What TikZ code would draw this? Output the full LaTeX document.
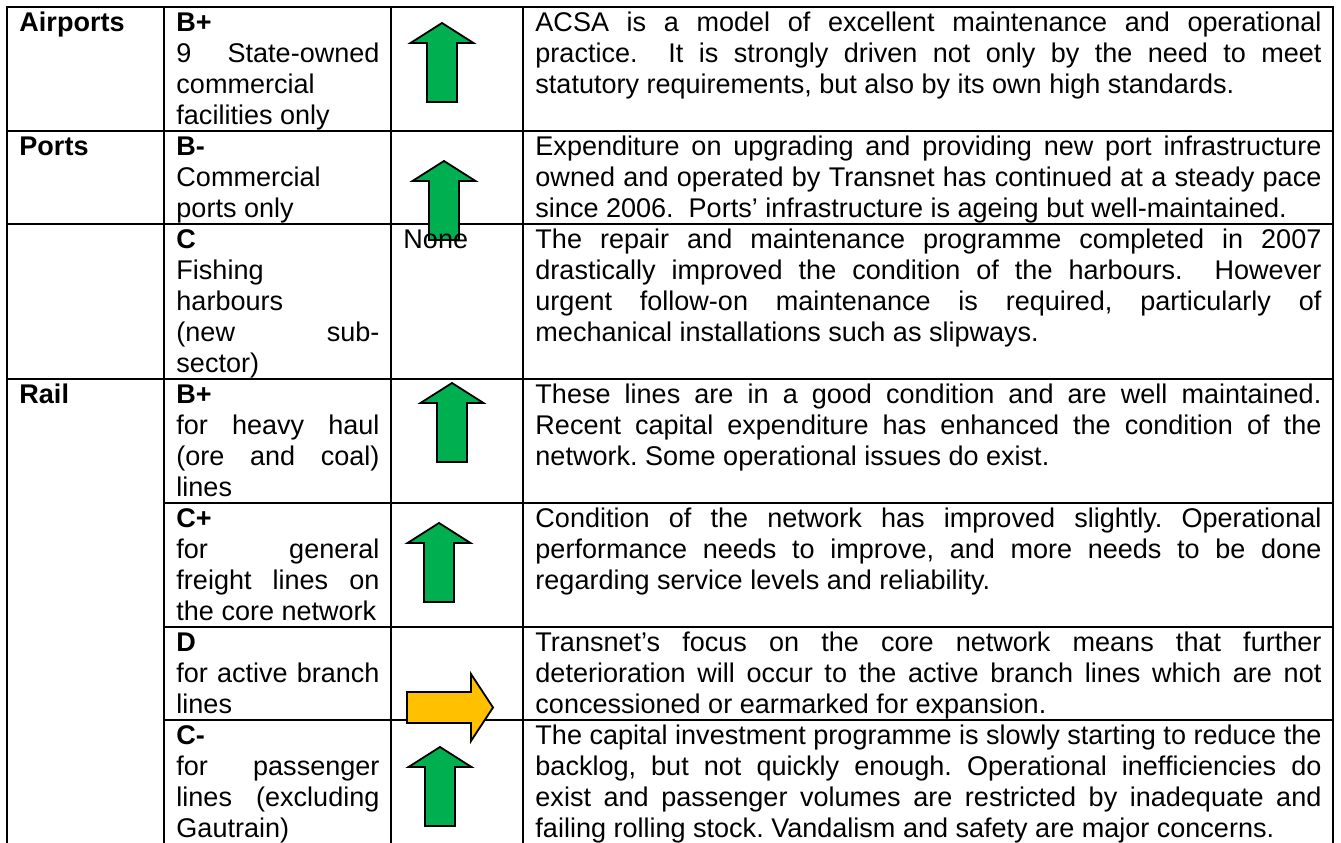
\documentclass[tikz,border=0pt]{standalone}
\usepackage{fontspec}
\setmainfont{Liberation Sans}
\frenchspacing
\hyphenpenalty=10000
\exhyphenpenalty=10000

\definecolor{upgreen}{HTML}{00B050}
\definecolor{sideorange}{HTML}{FFC000}

\begin{document}
\begin{tikzpicture}[x=0.4439pt,y=-0.4439pt]

\tikzstyle{grid} = [draw, line width=0.8pt]
\tikzstyle{cell} = [anchor=base west, inner sep=0pt,
    font=\fontsize{12pt}{13.76pt}\selectfont]
\tikzstyle{sector} = [cell, font=\fontsize{12pt}{13.76pt}\selectfont\bfseries]
\tikzstyle{grade} = [cell, align=justify, text width=90.1pt]
\tikzstyle{remark} = [cell, align=justify, text width=348.9pt]
\tikzstyle{uparrow} = [draw, line width=0.8pt, fill=upgreen, line join=miter]
\tikzstyle{sidearrow} = [draw, line width=0.8pt, fill=sideorange, line join=miter]

\useasboundingbox (0,0) rectangle (1341,843);

% rules of the table
\draw [grid] (7,850) -- (7,7) -- (1333,7) -- (1333,850);
\foreach \x in {164,391,523}
    \draw [grid] (\x,7) -- (\x,850);
\foreach \y in {131,224,379}
    \draw [grid] (7,\y) -- (1333,\y);
\foreach \y in {503,627,720}
    \draw [grid] (164,\y) -- (1333,\y);

% trend arrows
\foreach \tx/\ty in {442/23, 444/161, 452/383, 439/523, 440/747}
    \draw [uparrow] (\tx,\ty) -- ++(31.5,20) -- ++(-16.5,0) -- ++(0,59)
        -- ++(-30,0) -- ++(0,-59) -- ++(-16.5,0) -- cycle;
\draw [sidearrow] (407,692) -- (471,692) -- (471,674) -- (493,707.5)
    -- (471,741) -- (471,723) -- (407,723) -- cycle;

% sectors
\node [sector] (airports) at (19,32) {Airports};
\node [sector] (ports) at (19,156) {Ports};
\node [sector] (rail) at (19,404) {Rail};

% grades
\node [grade] (airgrade) at (176,32) {\textbf{B+}\newline 9 State-owned\linebreak commercial\newline facilities only};
\node [grade] (portgrade) at (176,156) {\textbf{B-}\newline Commercial\newline ports only};
\node [grade] (fishgrade) at (176,249) {\textbf{C}\newline Fishing\newline harbours\newline (new sub-\linebreak sector)};
\node [grade] (haulgrade) at (176,404) {\textbf{B+}\newline for heavy haul\linebreak (ore and coal)\linebreak lines};
\node [grade] (freightgrade) at (176,528) {\textbf{C+}\newline for general\linebreak freight lines on\linebreak the core network};
\node [grade] (branchgrade) at (176,652) {\textbf{D}\newline for active branch\linebreak lines};
\node [grade] (passgrade) at (176,745) {\textbf{C-}\newline for passenger\linebreak lines (excluding\linebreak Gautrain)};

\node [cell] (fishnone) at (403,249) {None};

% comments
\node [remark] (airnote) at (535,32) {ACSA is a model of excellent maintenance and operational\linebreak practice.\ \ It is strongly driven not only by the need to meet\linebreak statutory requirements, but also by its own high standards.};
\node [remark] (portnote) at (535,156) {Expenditure on upgrading and providing new port infrastructure\linebreak owned and operated by Transnet has continued at a steady pace\linebreak since 2006.\ \ Ports’ infrastructure is ageing but well-maintained.};
\node [remark] (fishnote) at (535,249) {The repair and maintenance programme completed in 2007\linebreak drastically improved the condition of the harbours.\ \ However\linebreak urgent follow-on maintenance is required, particularly of\linebreak mechanical installations such as slipways.};
\node [remark] (haulnote) at (535,404) {These lines are in a good condition and are well maintained.\linebreak Recent capital expenditure has enhanced the condition of the\linebreak network. Some operational issues do exist.};
\node [remark] (freightnote) at (535,528) {Condition of the network has improved slightly. Operational\linebreak performance needs to improve, and more needs to be done\linebreak regarding service levels and reliability.};
\node [remark] (branchnote) at (535,652) {Transnet’s focus on the core network means that further\linebreak deterioration will occur to the active branch lines which are not\linebreak concessioned or earmarked for expansion.};
\node [remark] (passnote) at (535,745) {The capital investment programme is slowly starting to reduce the\linebreak backlog, but not quickly enough. Operational inefficiencies do\linebreak exist and passenger volumes are restricted by inadequate and\linebreak failing rolling stock. Vandalism and safety are major concerns.};
\end{tikzpicture}
\end{document}
